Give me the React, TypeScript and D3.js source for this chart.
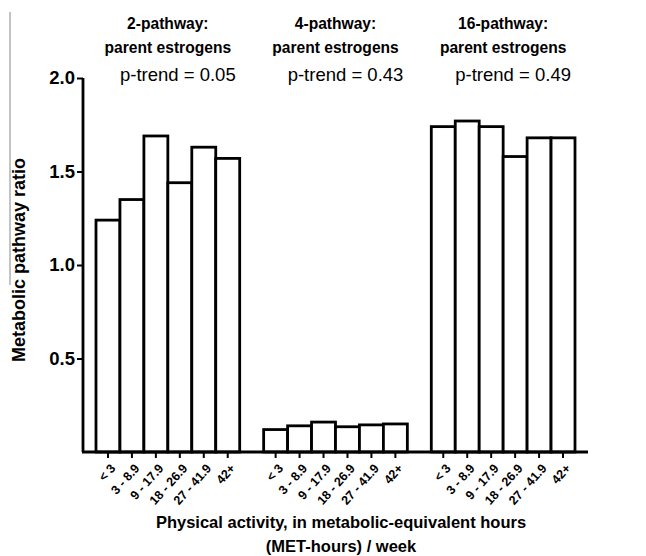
import React, { useEffect, useRef } from "react";
import * as d3 from "d3";

// data
const activityBins = ["< 3", "3 - 8.9", "9 - 17.9", "18 - 26.9", "27 - 41.9", "42+"];
const groupTitles = [
  ["2-pathway:", "parent estrogens"],
  ["4-pathway:", "parent estrogens"],
  ["16-pathway:", "parent estrogens"],
];
const pTrends = ["p-trend = 0.05", "p-trend = 0.43", "p-trend = 0.49"];
const ratio2 = [1.24, 1.35, 1.69, 1.44, 1.63, 1.57];
const ratio4 = [0.12, 0.14, 0.16, 0.135, 0.145, 0.15];
const ratio16 = [1.74, 1.77, 1.74, 1.58, 1.68, 1.68];
const yTicks = [0.5, 1.0, 1.5, 2.0];

const FONT = "'Liberation Sans', Arial, Helvetica, sans-serif";

export default function App() {
  const ref = useRef<SVGSVGElement>(null);

  useEffect(() => {
    const width = 646;
    const height = 556;
    const svg = d3.select(ref.current).attr("width", width).attr("height", height);
    svg.selectAll("*").remove();

    const series = [ratio2, ratio4, ratio16];
    // 20 slots: 6 bars, one empty slot, 6 bars, one empty slot, 6 bars
    const slots = d3.range(20).map(String);
    const xScale = d3.scaleBand().domain(slots).range([96, 575]).padding(0);
    const yScale = d3.scaleLinear().domain([0, 2.0]).range([452, 78]);

    const bars = series.flatMap((vals, g) =>
      vals.map((v, i) => ({ g, i, v, slot: String(g * 7 + i) }))
    );

    // stray scan border on the left
    svg.append("line")
      .attr("x1", 10).attr("x2", 10).attr("y1", 12).attr("y2", 285)
      .attr("stroke", "#888").attr("stroke-width", 1);

    // bars
    svg.selectAll("rect.bar").data(bars).join("rect")
      .attr("class", "bar")
      .attr("x", d => xScale(d.slot)!)
      .attr("width", xScale.bandwidth())
      .attr("y", d => yScale(d.v))
      .attr("height", d => yScale(0) - yScale(d.v))
      .attr("fill", "#fff")
      .attr("stroke", "#000")
      .attr("stroke-width", 2.8);

    // y axis
    const yAxis = d3.axisLeft(yScale).tickValues(yTicks).tickSize(6).tickSizeOuter(0)
      .tickFormat(d3.format(".1f"));
    const yg = svg.append("g").attr("transform", "translate(83,0)").call(yAxis);
    yg.select(".domain").attr("stroke", "#000").attr("stroke-width", 2.8)
      .attr("d", `M0,${yScale(2.0)}V${yScale(0)}`);
    yg.selectAll(".tick line").attr("stroke-width", 2);
    yg.selectAll(".tick text")
      .attr("x", -8)
      .style("font-family", FONT).style("font-size", "18.5px").style("font-weight", "bold")
      .attr("fill", "#000");

    // x axis
    const xAxis = d3.axisBottom(xScale).tickSize(6).tickSizeOuter(0)
      .tickValues(bars.map(d => d.slot))
      .tickFormat(s => activityBins[Number(s) % 7]);
    const xg = svg.append("g").attr("transform", `translate(0,${yScale(0)})`).call(xAxis);
    xg.select(".domain").attr("stroke", "#000").attr("stroke-width", 2.8)
      .attr("d", "M82,0H588");
    xg.selectAll(".tick line").attr("stroke-width", 2);
    xg.selectAll(".tick text")
      .attr("text-anchor", "end")
      .attr("x", 0)
      .attr("y", 0)
      .attr("dy", "0.35em")
      .attr("transform", "translate(5,14) rotate(-48)")
      .style("font-family", FONT).style("font-size", "12.5px").style("font-weight", "bold")
      .attr("fill", "#000");

    // group headers
    const centers = [0, 1, 2].map(g => {
      const a = xScale(String(g * 7))!;
      const b = xScale(String(g * 7 + 5))! + xScale.bandwidth();
      return (a + b) / 2;
    });
    groupTitles.forEach((lines, g) => {
      lines.forEach((t, k) => {
        svg.append("text")
          .attr("x", centers[g]).attr("y", 29 + k * 24)
          .attr("text-anchor", "middle")
          .style("font-family", FONT).style("font-size", "15.6px").style("font-weight", "bold")
          .text(t);
      });
      svg.append("text")
        .attr("x", centers[g] + 10).attr("y", 81)
        .attr("text-anchor", "middle")
        .style("font-family", FONT).style("font-size", "18.5px")
        .text(pTrends[g]);
    });

    // axis titles
    svg.append("text")
      .attr("transform", "translate(25,260) rotate(-90)")
      .attr("text-anchor", "middle")
      .style("font-family", FONT).style("font-size", "18px").style("font-weight", "bold")
      .text("Metabolic pathway ratio");

    svg.append("text")
      .attr("x", 341).attr("y", 528)
      .attr("text-anchor", "middle")
      .style("font-family", FONT).style("font-size", "16.5px").style("font-weight", "bold")
      .text("Physical activity, in metabolic-equivalent hours");
    svg.append("text")
      .attr("x", 341).attr("y", 552)
      .attr("text-anchor", "middle")
      .style("font-family", FONT).style("font-size", "16.5px").style("font-weight", "bold")
      .text("(MET-hours) / week");
  }, []);

  return (
    <svg ref={ref} style={{ position: "absolute", left: 0, top: 0, background: "#fff" }} />
  );
}
